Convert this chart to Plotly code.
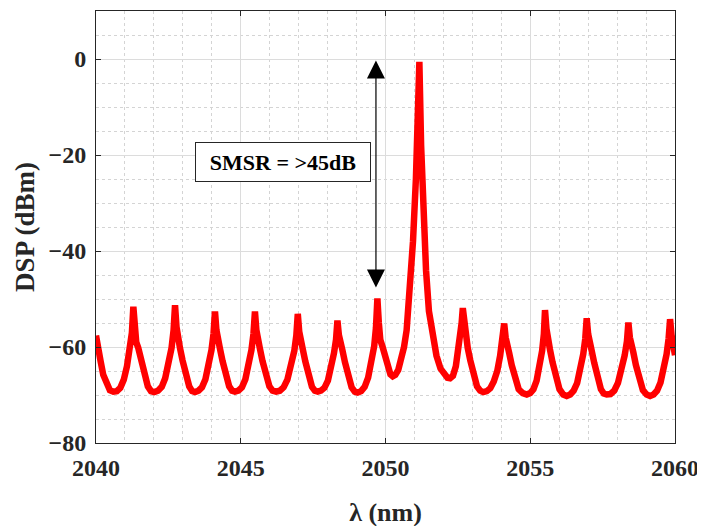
import plotly.graph_objects as go

# Wavelength (nm) and power (dBm)
wavelength_nm = [
    2040.00, 2040.04, 2040.09, 2040.16, 2040.25, 2040.36, 2040.48, 2040.60,
    2040.72, 2040.84, 2040.96, 2041.07, 2041.17, 2041.24, 2041.29, 2041.34, 2041.39, 2041.46, 2041.55, 2041.66, 2041.79, 2041.90, 2042.01,
    2042.14, 2042.27, 2042.39, 2042.50, 2042.61, 2042.68, 2042.73, 2042.78, 2042.83, 2042.90, 2042.99, 2043.10, 2043.22, 2043.32, 2043.42,
    2043.54, 2043.66, 2043.78, 2043.89, 2043.99, 2044.06, 2044.11, 2044.16, 2044.21, 2044.28, 2044.37, 2044.48, 2044.60, 2044.70, 2044.80,
    2044.92, 2045.04, 2045.16, 2045.27, 2045.37, 2045.44, 2045.49, 2045.54, 2045.59, 2045.66, 2045.75, 2045.86, 2045.99, 2046.10, 2046.22,
    2046.35, 2046.48, 2046.61, 2046.73, 2046.85, 2046.92, 2046.97, 2047.02, 2047.07, 2047.14, 2047.23, 2047.34, 2047.46, 2047.56, 2047.66,
    2047.77, 2047.89, 2048.01, 2048.12, 2048.22, 2048.29, 2048.34, 2048.39, 2048.44, 2048.51, 2048.60, 2048.71, 2048.83, 2048.94, 2049.04,
    2049.16, 2049.28, 2049.40, 2049.51, 2049.61, 2049.67, 2049.72, 2049.77, 2049.82, 2049.90, 2049.99, 2050.09, 2050.17, 2050.25,
    2050.34, 2050.44, 2050.54, 2050.64, 2050.73, 2050.84, 2050.95, 2051.05, 2051.11, 2051.17,
    2051.23, 2051.30, 2051.40, 2051.50, 2051.62, 2051.76, 2051.90, 2052.03, 2052.14, 2052.23,
    2052.33, 2052.43, 2052.52, 2052.59, 2052.63, 2052.67, 2052.72, 2052.77, 2052.84, 2052.93, 2053.04, 2053.16, 2053.27, 2053.38,
    2053.50, 2053.62, 2053.74, 2053.86, 2053.96, 2054.04, 2054.10, 2054.15, 2054.20, 2054.27, 2054.36, 2054.47, 2054.60, 2054.74, 2054.88,
    2055.00, 2055.11, 2055.22, 2055.32, 2055.41, 2055.47, 2055.51, 2055.56, 2055.61, 2055.68, 2055.77, 2055.88, 2056.01, 2056.14, 2056.26,
    2056.38, 2056.50, 2056.62, 2056.73, 2056.83, 2056.90, 2056.95, 2057.00, 2057.05, 2057.12, 2057.21, 2057.32, 2057.44, 2057.54, 2057.64,
    2057.77, 2057.90, 2058.03, 2058.15, 2058.26, 2058.34, 2058.39, 2058.44, 2058.49, 2058.56, 2058.65, 2058.76, 2058.89, 2059.02, 2059.14,
    2059.26, 2059.38, 2059.50, 2059.61, 2059.71, 2059.78, 2059.83, 2059.88, 2059.93, 2060.00,
]

power_dbm = [
    -57.6, -59.4, -60.5, -63.0, -65.8, -67.8, -69.0, -69.3,
    -69.2, -68.5, -66.8, -64.0, -60.5, -57.0, -51.6, -56.0, -59.0, -60.2, -62.8, -65.8, -68.2, -69.2, -69.4,
    -69.1, -68.3, -66.5, -63.8, -60.2, -56.5, -51.3, -55.8, -59.0, -60.2, -62.8, -65.8, -68.2, -69.2, -69.4,
    -69.1, -68.4, -66.7, -64.0, -60.6, -57.2, -52.6, -56.5, -59.2, -60.3, -62.9, -65.9, -68.2, -69.1, -69.3,
    -69.1, -68.4, -66.7, -64.0, -60.6, -57.2, -52.6, -56.5, -59.2, -60.3, -62.9, -65.9, -68.2, -69.1, -69.3,
    -69.1, -68.4, -66.8, -64.2, -60.8, -57.6, -53.1, -56.8, -59.3, -60.4, -63.0, -66.0, -68.3, -69.1, -69.3,
    -69.1, -68.5, -67.0, -64.6, -61.3, -58.5, -54.5, -57.5, -59.6, -60.6, -63.2, -66.2, -68.4, -69.3, -69.5,
    -69.2, -68.3, -66.4, -63.5, -59.8, -56.0, -49.9, -55.0, -58.5, -60.0, -62.0, -64.5, -65.7, -66.1,
    -65.8, -64.8, -62.8, -60.0, -56.5, -48.5, -38.0, -25.0, -15.0, -0.6,
    -18.0, -32.0, -44.0, -52.5, -57.8, -61.8, -64.5, -65.9, -66.4, -66.5,
    -66.0, -64.0, -60.5, -57.0, -55.0, -51.9, -55.5, -58.4, -60.2, -62.8, -65.8, -68.2, -69.1, -69.4,
    -69.2, -68.6, -67.2, -65.0, -61.8, -58.7, -55.1, -58.0, -60.0, -61.2, -63.8, -66.6, -68.8, -69.6, -69.9,
    -69.6, -68.8, -67.0, -64.2, -60.8, -57.3, -52.3, -56.2, -59.3, -60.5, -63.2, -66.3, -68.8, -69.9, -70.2,
    -69.9, -69.1, -67.5, -64.8, -61.5, -58.3, -54.0, -57.3, -59.7, -60.7, -63.3, -66.4, -68.8, -69.7, -69.9,
    -69.8, -69.1, -67.5, -65.0, -61.8, -58.8, -54.9, -58.0, -60.0, -61.1, -63.8, -66.8, -69.0, -69.9, -70.2,
    -69.9, -69.1, -67.4, -64.8, -61.5, -58.2, -54.2, -57.5, -60.0, -61.7,
]

x_ticks = [2040, 2045, 2050, 2055, 2060]
y_ticks = [-80, -60, -40, -20, 0]

arrow_x = 2049.67
arrow_top = 0.0
arrow_bottom = -47.6
label_text = "SMSR = >45dB"
label_x = 2046.46
label_y = -21.5

FONT = "Liberation Serif, Times New Roman, serif"
INK = "#262626"

fig = go.Figure()
fig.add_trace(go.Scatter(
    x=wavelength_nm, y=power_dbm, mode="lines",
    line=dict(color="#ff0000", width=6.5),
    showlegend=False,
))

# double-headed arrow
fig.add_annotation(
    x=arrow_x, y=arrow_bottom, ax=arrow_x, ay=arrow_top,
    xref="x", yref="y", axref="x", ayref="y",
    text="", showarrow=True, arrowhead=2, startarrowhead=2,
    arrowside="end+start", arrowsize=3, startarrowsize=3,
    arrowwidth=1.2, arrowcolor="#000000", standoff=0, startstandoff=0,
)

fig.add_annotation(
    x=label_x, y=label_y, xref="x", yref="y",
    text=label_text, showarrow=False,
    font=dict(family=FONT, size=22, color="#000000", weight="bold"),
    bordercolor=INK, borderwidth=1, borderpad=1,
    bgcolor="#ffffff", width=172, height=36,
)

axis_common = dict(
    showline=True, linecolor=INK, linewidth=1, mirror="ticks",
    ticks="inside", ticklen=5, tickcolor=INK,
    showgrid=True, gridcolor="#dcdcdc", gridwidth=1, zeroline=False,
    tickfont=dict(family=FONT, size=24, color=INK, weight="bold"),
    automargin=False,
)

fig.update_xaxes(
    range=[2040, 2060], tickvals=x_ticks, ticktext=[str(v) for v in x_ticks],
    minor=dict(dtick=1, showgrid=True, gridcolor="#d4d4d4", griddash="dot", ticks=""),
    title=dict(text="λ (nm)", font=dict(family=FONT, size=26, color=INK, weight="bold"), standoff=23),
    ticklabelstandoff=3,
    **axis_common,
)
fig.update_yaxes(
    range=[-80, 10], tickvals=y_ticks,
    ticktext=[str(v).replace("-", "\u2212") for v in y_ticks],
    minor=dict(dtick=5, showgrid=True, gridcolor="#d4d4d4", griddash="dot", ticks=""),
    title=dict(text="DSP (dBm)", font=dict(family=FONT, size=27, color=INK, weight="bold"), standoff=6),
    ticklabelstandoff=4,
    **axis_common,
)

# the page body adds an 8 px offset, so margins are shifted to place the
# plot area where the reference has it
fig.update_layout(
    width=705, height=526,
    margin=dict(l=88, r=38, t=3, b=91),
    paper_bgcolor="#ffffff", plot_bgcolor="#ffffff",
)

fig.write_html("out.html")
